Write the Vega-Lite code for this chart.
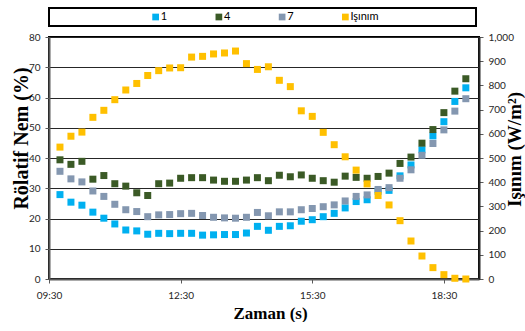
{
  "$schema": "https://vega.github.io/schema/vega-lite/v6.json",
  "background": "white",
  "padding": {"left": 10, "top": 7, "right": 0, "bottom": 0},
  "config": {"font": "Lato", "view": {"stroke": null}},
  "spacing": 11,
  "bounds": "flush",
  "resolve": {"scale": {"x": "independent", "color": "independent"}},
  "vconcat": [
    {
      "width": 427,
      "height": 18,
      "view": {"stroke": "black", "strokeWidth": 2},
      "data": {"values": [{"label": "1"}, {"label": "4"}, {"label": "7"}, {"label": "Işınım"}]},
      "encoding": {
        "x": {"field": "label", "type": "nominal", "sort": null, "scale": {"type": "point", "range": [75, 328]}, "axis": null}
      },
      "layer": [
        {
          "mark": {"type": "square", "size": 45, "opacity": 1, "filled": true},
          "encoding": {
            "color": {"field": "label", "type": "nominal", "sort": null, "scale": {"domain": ["1", "4", "7", "Işınım"], "range": ["#00B0F0", "#3B5A26", "#8497B0", "#FFC000"]}, "legend": null}
          }
        },
        {
          "mark": {"type": "text", "align": "left", "baseline": "middle", "dx": 5, "font": "Lato", "fontSize": 11, "color": "black"},
          "encoding": {"text": {"field": "label"}}
        }
      ]
    },
    {
      "width": 430,
      "height": 242,
      "view": {"stroke": "black", "strokeWidth": 2},
      "encoding": {
        "x": {
          "field": "t", "type": "temporal",
          "scale": {"domain": [{"year": 1900, "month": 1, "date": 1, "hours": 9, "minutes": 30}, {"year": 1900, "month": 1, "date": 1, "hours": 19, "minutes": 18}], "nice": false},
          "axis": {
            "values": [
              {"year": 1900, "month": 1, "date": 1, "hours": 9, "minutes": 30},
              {"year": 1900, "month": 1, "date": 1, "hours": 12, "minutes": 30},
              {"year": 1900, "month": 1, "date": 1, "hours": 15, "minutes": 30},
              {"year": 1900, "month": 1, "date": 1, "hours": 18, "minutes": 30}
            ],
            "format": "%H:%M",
            "title": "Zaman (s)",
            "titleFont": "Liberation Serif", "titleFontSize": 17, "titleFontWeight": "bold", "titleColor": "black",
            "titlePadding": 5, "titleX": 221,
            "labelFont": "Lato", "labelFontSize": 10, "labelColor": "#262626", "labelPadding": 7,
            "labelFlush": false, "labelOverlap": false,
            "tickSize": 4, "tickColor": "#595959",
            "domainColor": "#595959", "domainWidth": 2, "grid": false
          }
        }
      },
      "layer": [
        {
          "data": {
            "format": {"parse": {"t": "date:'%H:%M'"}},
            "values": [
              {"t": "09:45", "s": "1", "v": 27.9}, {"t": "10:00", "s": "1", "v": 25.4}, {"t": "10:15", "s": "1", "v": 24.4}, {"t": "10:30", "s": "1", "v": 22.1}, {"t": "10:45", "s": "1", "v": 20.1}, {"t": "11:00", "s": "1", "v": 18.2}, {"t": "11:15", "s": "1", "v": 16.2}, {"t": "11:30", "s": "1", "v": 15.9}, {"t": "11:45", "s": "1", "v": 14.8}, {"t": "12:00", "s": "1", "v": 15.1},
              {"t": "12:15", "s": "1", "v": 15.0}, {"t": "12:30", "s": "1", "v": 15.1}, {"t": "12:45", "s": "1", "v": 15.1}, {"t": "13:00", "s": "1", "v": 14.5}, {"t": "13:15", "s": "1", "v": 14.6}, {"t": "13:30", "s": "1", "v": 14.7}, {"t": "13:45", "s": "1", "v": 14.7}, {"t": "14:00", "s": "1", "v": 15.2}, {"t": "14:15", "s": "1", "v": 17.4}, {"t": "14:30", "s": "1", "v": 16.1},
              {"t": "14:45", "s": "1", "v": 17.4}, {"t": "15:00", "s": "1", "v": 17.6}, {"t": "15:15", "s": "1", "v": 19.1}, {"t": "15:30", "s": "1", "v": 19.6}, {"t": "15:45", "s": "1", "v": 20.6}, {"t": "16:00", "s": "1", "v": 21.7}, {"t": "16:15", "s": "1", "v": 23.5}, {"t": "16:30", "s": "1", "v": 25.6}, {"t": "16:45", "s": "1", "v": 26.2}, {"t": "17:00", "s": "1", "v": 29.0},
              {"t": "17:15", "s": "1", "v": 29.3}, {"t": "17:30", "s": "1", "v": 34.1}, {"t": "17:45", "s": "1", "v": 37.7}, {"t": "18:00", "s": "1", "v": 42.7}, {"t": "18:15", "s": "1", "v": 47.3}, {"t": "18:30", "s": "1", "v": 52.0}, {"t": "18:45", "s": "1", "v": 58.7}, {"t": "19:00", "s": "1", "v": 63.2},
              {"t": "09:45", "s": "4", "v": 39.4}, {"t": "10:00", "s": "4", "v": 37.9}, {"t": "10:15", "s": "4", "v": 38.9}, {"t": "10:30", "s": "4", "v": 33.0}, {"t": "10:45", "s": "4", "v": 34.2}, {"t": "11:00", "s": "4", "v": 31.5}, {"t": "11:15", "s": "4", "v": 30.7}, {"t": "11:30", "s": "4", "v": 28.5}, {"t": "11:45", "s": "4", "v": 27.6}, {"t": "12:00", "s": "4", "v": 31.5},
              {"t": "12:15", "s": "4", "v": 31.7}, {"t": "12:30", "s": "4", "v": 33.3}, {"t": "12:45", "s": "4", "v": 33.5}, {"t": "13:00", "s": "4", "v": 33.5}, {"t": "13:15", "s": "4", "v": 32.7}, {"t": "13:30", "s": "4", "v": 32.3}, {"t": "13:45", "s": "4", "v": 32.3}, {"t": "14:00", "s": "4", "v": 32.7}, {"t": "14:15", "s": "4", "v": 33.5}, {"t": "14:30", "s": "4", "v": 32.5},
              {"t": "14:45", "s": "4", "v": 34.3}, {"t": "15:00", "s": "4", "v": 33.8}, {"t": "15:15", "s": "4", "v": 34.4}, {"t": "15:30", "s": "4", "v": 33.3}, {"t": "15:45", "s": "4", "v": 32.5}, {"t": "16:00", "s": "4", "v": 32.0}, {"t": "16:15", "s": "4", "v": 34.0}, {"t": "16:30", "s": "4", "v": 33.6}, {"t": "16:45", "s": "4", "v": 33.3}, {"t": "17:00", "s": "4", "v": 33.9},
              {"t": "17:15", "s": "4", "v": 35.0}, {"t": "17:30", "s": "4", "v": 38.2}, {"t": "17:45", "s": "4", "v": 40.3}, {"t": "18:00", "s": "4", "v": 44.9}, {"t": "18:15", "s": "4", "v": 49.4}, {"t": "18:30", "s": "4", "v": 55.0}, {"t": "18:45", "s": "4", "v": 62.1}, {"t": "19:00", "s": "4", "v": 66.2},
              {"t": "09:45", "s": "7", "v": 35.6}, {"t": "10:00", "s": "7", "v": 33.1}, {"t": "10:15", "s": "7", "v": 32.1}, {"t": "10:30", "s": "7", "v": 29.1}, {"t": "10:45", "s": "7", "v": 27.3}, {"t": "11:00", "s": "7", "v": 24.7}, {"t": "11:15", "s": "7", "v": 22.9}, {"t": "11:30", "s": "7", "v": 22.3}, {"t": "11:45", "s": "7", "v": 20.6}, {"t": "12:00", "s": "7", "v": 21.2},
              {"t": "12:15", "s": "7", "v": 21.3}, {"t": "12:30", "s": "7", "v": 21.6}, {"t": "12:45", "s": "7", "v": 21.7}, {"t": "13:00", "s": "7", "v": 21.0}, {"t": "13:15", "s": "7", "v": 20.4}, {"t": "13:30", "s": "7", "v": 20.2}, {"t": "13:45", "s": "7", "v": 20.1}, {"t": "14:00", "s": "7", "v": 20.4}, {"t": "14:15", "s": "7", "v": 22.0}, {"t": "14:30", "s": "7", "v": 20.9},
              {"t": "14:45", "s": "7", "v": 22.2}, {"t": "15:00", "s": "7", "v": 22.2}, {"t": "15:15", "s": "7", "v": 22.9}, {"t": "15:30", "s": "7", "v": 23.3}, {"t": "15:45", "s": "7", "v": 23.9}, {"t": "16:00", "s": "7", "v": 24.5}, {"t": "16:15", "s": "7", "v": 25.8}, {"t": "16:30", "s": "7", "v": 27.3}, {"t": "16:45", "s": "7", "v": 27.8}, {"t": "17:00", "s": "7", "v": 29.6},
              {"t": "17:15", "s": "7", "v": 30.2}, {"t": "17:30", "s": "7", "v": 33.3}, {"t": "17:45", "s": "7", "v": 36.1}, {"t": "18:00", "s": "7", "v": 40.9}, {"t": "18:15", "s": "7", "v": 44.8}, {"t": "18:30", "s": "7", "v": 49.3}, {"t": "18:45", "s": "7", "v": 55.5}, {"t": "19:00", "s": "7", "v": 59.6}
            ]
          },
          "mark": {"type": "square", "size": 49, "opacity": 1, "filled": true},
          "encoding": {
            "y": {
              "field": "v", "type": "quantitative",
              "scale": {"domain": [0, 80], "nice": false},
              "axis": {
                "orient": "left",
                "values": [0, 10, 20, 30, 40, 50, 60, 70, 80],
                "title": "Rölatif Nem (%)",
                "titleFont": "Liberation Serif", "titleFontSize": 20, "titleFontWeight": "bold", "titleColor": "black",
                "titleAngle": -90, "titleBaseline": "middle", "titleAlign": "center", "titleX": -28, "titleY": 101,
                "labelFont": "Lato", "labelFontSize": 10, "labelColor": "#262626", "labelPadding": 5,
                "tickSize": 4, "tickColor": "#595959",
                "domainColor": "#595959", "domainWidth": 2,
                "grid": true, "gridColor": "#262626", "gridWidth": 1.2
              }
            },
            "color": {"field": "s", "type": "nominal", "scale": {"domain": ["1", "4", "7"], "range": ["#00B0F0", "#3B5A26", "#8497B0"]}, "legend": null}
          }
        },
        {
          "data": {
            "format": {"parse": {"t": "date:'%H:%M'"}},
            "values": [
              {"t": "09:45", "w": 545}, {"t": "10:00", "w": 590}, {"t": "10:15", "w": 607}, {"t": "10:30", "w": 668}, {"t": "10:45", "w": 697}, {"t": "11:00", "w": 741}, {"t": "11:15", "w": 781}, {"t": "11:30", "w": 808}, {"t": "11:45", "w": 841}, {"t": "12:00", "w": 861},
              {"t": "12:15", "w": 872}, {"t": "12:30", "w": 873}, {"t": "12:45", "w": 917}, {"t": "13:00", "w": 920}, {"t": "13:15", "w": 930}, {"t": "13:30", "w": 934}, {"t": "13:45", "w": 942}, {"t": "14:00", "w": 890}, {"t": "14:15", "w": 866}, {"t": "14:30", "w": 877},
              {"t": "14:45", "w": 821}, {"t": "15:00", "w": 795}, {"t": "15:15", "w": 695}, {"t": "15:30", "w": 672}, {"t": "15:45", "w": 606}, {"t": "16:00", "w": 555}, {"t": "16:15", "w": 505}, {"t": "16:30", "w": 450}, {"t": "16:45", "w": 393}, {"t": "17:00", "w": 345},
              {"t": "17:15", "w": 306}, {"t": "17:30", "w": 241}, {"t": "17:45", "w": 157}, {"t": "18:00", "w": 95}, {"t": "18:15", "w": 47}, {"t": "18:30", "w": 18}, {"t": "18:45", "w": 3}, {"t": "19:00", "w": 0}
            ]
          },
          "mark": {"type": "square", "size": 49, "opacity": 1, "filled": true, "color": "#FFC000"},
          "encoding": {
            "y": {
              "field": "w", "type": "quantitative",
              "scale": {"domain": [0, 1000], "nice": false},
              "axis": {
                "orient": "right",
                "values": [0, 100, 200, 300, 400, 500, 600, 700, 800, 900, 1000],
                "title": "Işınım (W/m²)",
                "titleFont": "Liberation Serif", "titleFontSize": 19, "titleFontWeight": "bold", "titleColor": "black",
                "titleAngle": -90, "titleBaseline": "middle", "titleAlign": "center", "titleX": 35, "titleY": 112,
                "labelFont": "Lato", "labelFontSize": 10, "labelColor": "#262626", "labelPadding": 5,
                "tickSize": 4, "tickColor": "#595959",
                "domainColor": "#262626", "domainWidth": 2,
                "grid": false
              }
            }
          }
        }
      ],
      "resolve": {"scale": {"y": "independent"}}
    }
  ]
}
